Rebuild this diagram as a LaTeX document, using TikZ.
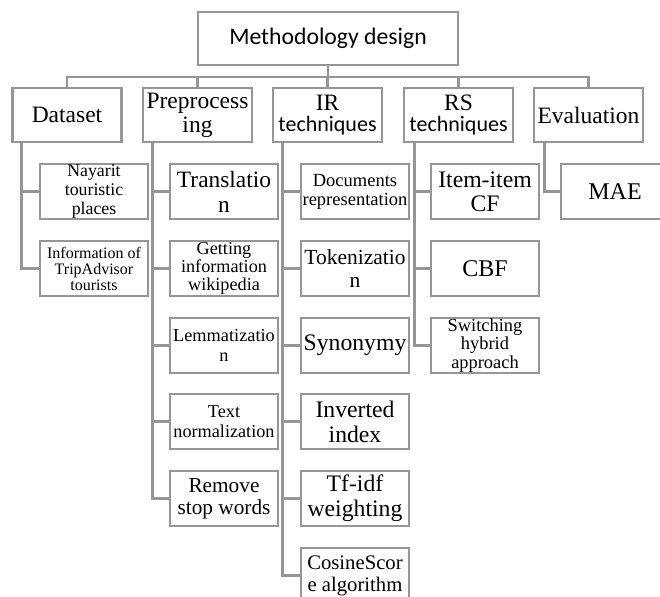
\documentclass[tikz,border=0pt]{standalone}
\usepackage{fontspec}
\setmainfont{Liberation Serif}
\newfontfamily\carlito{Carlito}
\definecolor{lg}{RGB}{150,150,150}
\newcommand\fs[2]{\fontsize{#1}{#2}\selectfont}
\begin{document}
\begin{tikzpicture}[x=1pt,y=-1pt,
  box/.style={draw=lg,line width=2.6pt,fill=white,inner sep=0pt,align=center},
  topbox/.style={box,minimum width=109pt,minimum height=54pt,font=\fs{23.5}{24}},
  kid/.style={box,minimum width=108pt,minimum height=55pt},
  ln/.style={draw=lg,line width=2.6pt}]
\useasboundingbox (0,0) rectangle (660,596);
\clip (0,0) rectangle (660,596);
% root and top level
\node[box,minimum width=260pt,minimum height=53pt,font=\carlito\fs{23.7}{26}] (root) at (328,38.5) {Methodology design};
\node[topbox] (ds) at (67,115) {Dataset};
\node[topbox] (pp) at (197.5,115) {Preprocess\\ing};
\node[topbox,font=\fs{23.5}{21.7}] (ir) at (327.5,115) {IR\\{\carlito\fs{22}{21.7}techniques}};
\node[topbox,font=\fs{23.5}{21.7}] (rs) at (458.5,115) {RS\\{\carlito\fs{22}{21.7}techniques}};
\node[topbox] (ev) at (588.5,115) {Evaluation};
% children
\node[kid,font=\fs{17.8}{19.3}] (d1) at (94,191.5) {Nayarit\\touristic\\places};
\node[kid,font=\fs{16}{16}] (d2) at (94,268.5) {Information of\\TripAdvisor\\tourists};
\node[kid,font=\fs{23.4}{25}] (p1) at (224,191.5) {Translatio\\n};
\node[kid,font=\fs{18.2}{18.3}] (p2) at (224,268.5) {Getting\\information\\wikipedia};
\node[kid,font=\fs{18.3}{20}] (p3) at (224,345.5) {Lemmatizatio\\n};
\node[kid,font=\fs{18.2}{19.5}] (p4) at (224,421.5) {Text\\normalization};
\node[kid,font=\fs{21.3}{21.7}] (p5) at (224,498.5) {Remove\\stop words};
\node[kid,font=\fs{18.5}{19}] (i1) at (355,191.5) {Documents\\representation};
\node[kid,font=\fs{21.5}{22.7}] (i2) at (355,268.5) {Tokenizatio\\n};
\node[kid,font=\fs{23.7}{25}] (i3) at (355,345.5) {Synonymy};
\node[kid,font=\fs{23.7}{25}] (i4) at (355,421.5) {Inverted\\index};
\node[kid,font=\fs{23.7}{25}] (i5) at (355,498.5) {Tf-idf\\weighting};
\node[kid,font=\fs{20.7}{22}] (i6) at (355,575.5) {CosineScor\\e algorithm};
\node[kid,font=\fs{23.7}{24.3}] (r1) at (485,191.5) {Item-item\\CF};
\node[kid,font=\fs{24}{25}] (r2) at (485,268.5) {CBF};
\node[kid,font=\fs{18.4}{18.3}] (r3) at (485,345.5) {Switching\\hybrid\\approach};
\node[kid,font=\fs{24}{25}] (e1) at (615,191.5) {MAE};
% bus
\coordinate (busL) at (67,77);
\draw[ln] (root.south) -- (root.south |- busL);
\draw[ln] (ds.north) |- (ev.north |- busL) -- (ev.north);
\foreach \n in {pp,ir,rs}{\draw[ln] (\n.north) -- (\n.north |- busL);}
% trunks
\coordinate (dsT) at ([xshift=10pt]ds.south west);
\coordinate (ppT) at ([xshift=11pt]pp.south west);
\coordinate (irT) at ([xshift=11pt]ir.south west);
\coordinate (rsT) at ([xshift=12pt]rs.south west);
\coordinate (evT) at ([xshift=12pt]ev.south west);
\foreach \c in {d1,d2}{\draw[ln] (dsT) |- (\c.west);}
\foreach \c in {p1,p2,p3,p4,p5}{\draw[ln] (ppT) |- (\c.west);}
\foreach \c in {i1,i2,i3,i4,i5,i6}{\draw[ln] (irT) |- (\c.west);}
\foreach \c in {r1,r2,r3}{\draw[ln] (rsT) |- (\c.west);}
\draw[ln] (evT) |- (e1.west);
\end{tikzpicture}
\end{document}
